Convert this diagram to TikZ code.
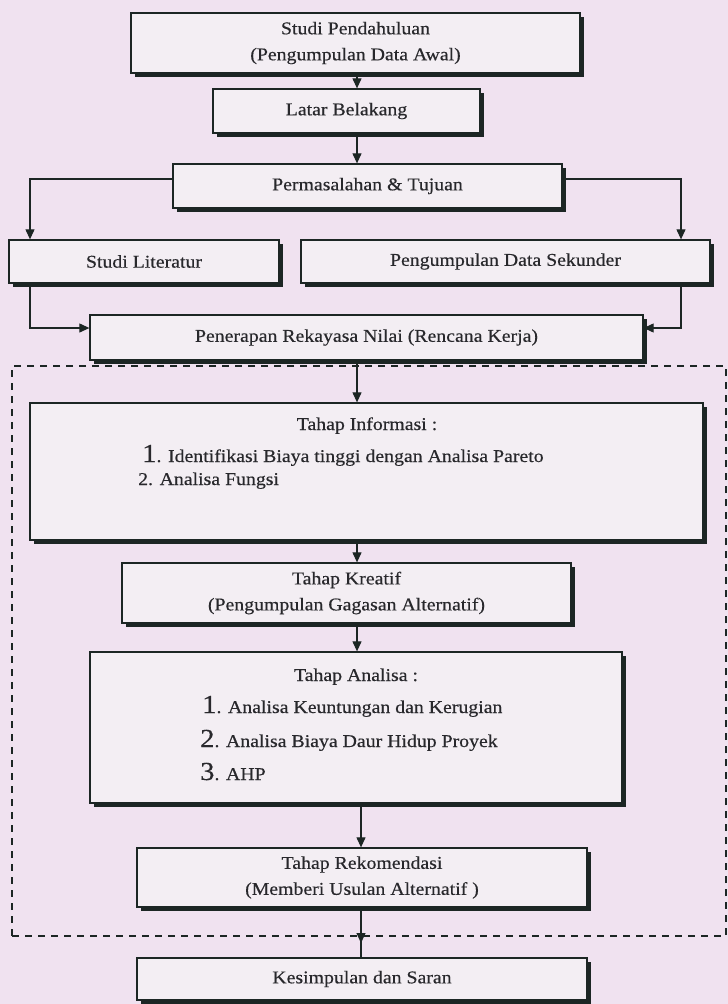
\documentclass[tikz,border=0pt]{standalone}
\usepackage{fontspec}
\setmainfont{Liberation Serif}[FakeStretch=1.1,FakeBold=0.4]
\usetikzlibrary{arrows.meta,shadows}

\definecolor{paper}{RGB}{240,226,240}
\definecolor{boxfill}{RGB}{243,238,243}
\definecolor{ink}{RGB}{28,38,36}
\definecolor{letter}{RGB}{40,40,44}

\newcommand{\bignum}[1]{{\fontsize{26}{26}\selectfont #1}}

\begin{document}
\begin{tikzpicture}[x=1pt,y=-1pt,
  every node/.style={font=\fontsize{18}{26}\selectfont, text=letter},
  stage/.style={draw=ink, line width=1.3pt, fill=boxfill, inner sep=0pt, align=center,
    drop shadow={shadow xshift=3.5pt, shadow yshift=-3.5pt, fill=ink, opacity=1}},
  link/.style={draw=ink, line width=1.1pt},
  arr/.style={link, -{Triangle[length=10pt,width=9pt]}},
  phasebox/.style={draw=ink, line width=1.3pt, dash pattern=on 7pt off 6pt, inner sep=0pt}
  ]
  % page
  \fill[paper] (0,0) rectangle (728,1004);
  \useasboundingbox (0,0) rectangle (728,1004);

  % dashed frame around the value-engineering phases
  \node[phasebox, minimum width=714pt, minimum height=570pt] (phase) at (369,651) {};

  % boxes
  \node[stage, minimum width=449pt, minimum height=60pt] (b1) at (355.5,43)
    {Studi Pendahuluan\\(Pengumpulan Data Awal)};
  \node[stage, minimum width=267pt, minimum height=44pt] (b2) at (346.5,111) {Latar Belakang};
  \node[stage, minimum width=389pt, minimum height=44pt] (b3) at (367.5,186) {Permasalahan \& Tujuan};
  \node[stage, minimum width=270pt, minimum height=43pt] (lit) at (144,261.5) {Studi Literatur};
  \node[stage, minimum width=409pt, minimum height=43pt] (sek) at (505.5,261.5) {Pengumpulan Data Sekunder};
  \node[stage, minimum width=553pt, minimum height=45pt] (pen) at (366.5,337.5)
    {Penerapan Rekayasa Nilai (Rencana Kerja)};
  \node[stage, minimum width=673pt, minimum height=137pt] (inf) at (366.5,471.5) {};
  \node[stage, minimum width=449pt, minimum height=60pt] (kre) at (346.5,593)
    {Tahap Kreatif\\(Pengumpulan Gagasan Alternatif)};
  \node[stage, minimum width=532pt, minimum height=151pt] (ana) at (356,727.5) {};
  \node[stage, minimum width=450pt, minimum height=59pt] (rek) at (362,877.5)
    {Tahap Rekomendasi\\(Memberi Usulan Alternatif )};
  \node[stage, minimum width=450pt, minimum height=42pt] (kes) at (362,979) {Kesimpulan dan Saran};

  % contents of the information stage
  \node[anchor=base] (infT) at (367,430) {Tahap Informasi :};
  \node[anchor=base west, inner sep=0pt] (inf1) at (142,462)
    {\bignum{1}. Identifikasi Biaya tinggi dengan Analisa Pareto};
  \node[anchor=base west, inner sep=0pt] (inf2) at (138,485) {2. Analisa Fungsi};

  % contents of the analysis stage
  \node[anchor=base] (anaT) at (356,681) {Tahap Analisa :};
  \node[anchor=base west, inner sep=0pt] (ana1) at (202,713)
    {\bignum{1}. Analisa Keuntungan dan Kerugian};
  \node[anchor=base west, inner sep=0pt] (ana2) at (200,747)
    {\bignum{2}. Analisa Biaya Daur Hidup Proyek};
  \node[anchor=base west, inner sep=0pt] (ana3) at (200,780) {\bignum{3}. AHP};

  % guide coordinates for the connectors
  \coordinate (ax) at (357,0);
  \coordinate (ay) at (361,0);
  \coordinate (lb) at (30,179);
  \coordinate (rb) at (681,179);
  \coordinate (lj) at (30,328);
  \coordinate (rj) at (681,328);
  \coordinate (gate) at (361,943);

  % main flow
  \draw[arr] (b1.south -| ax) -- (b2.north -| ax);
  \draw[arr] (b2.south -| ax) -- (b3.north -| ax);
  \draw[arr] (b3.west |- lb) -| (lit.north -| lb);
  \draw[arr] (b3.east |- rb) -| (sek.north -| rb);
  \draw[arr] (lit.south -| lj) |- (pen.west |- lj);
  \draw[arr] (sek.south -| rj) |- (pen.east |- rj);
  \draw[arr] (pen.south -| ax) -- (inf.north -| ax);
  \draw[arr] (inf.south -| ax) -- (kre.north -| ax);
  \draw[arr] (kre.south -| ax) -- (ana.north -| ax);
  \draw[arr] (ana.south -| ay) -- (rek.north -| ay);
  \draw[link] (rek.south -| ay) -- (kes.north -| ay);
  \draw[arr] (rek.south -| ay) -- (gate);
\end{tikzpicture}
\end{document}
